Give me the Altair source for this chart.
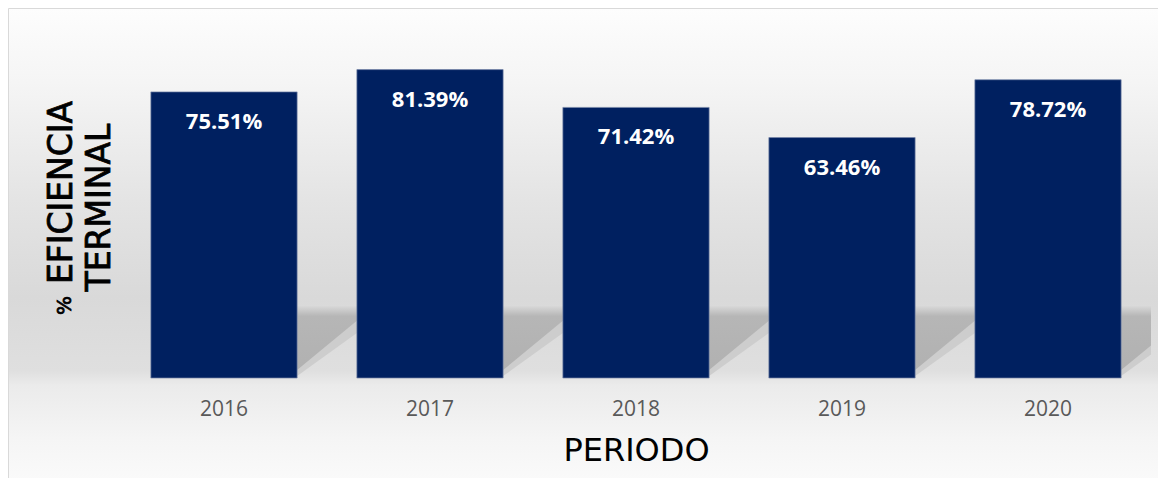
import altair as alt
import pandas as pd

# ---- data ----
years = ["2016", "2017", "2018", "2019", "2020"]
values = [75.51, 81.39, 71.42, 63.46, 78.72]

# ---- layout constants ----
W, H = 1030, 341
Y_MAX = 90
PAD_INNER = 0.29
PAD_OUTER = PAD_INNER / 2

# decorative floor shadow (in y data units), cast to the right of each bar
SHADOW_TOP = 19.0
SHADOW_LOW_NEAR = 0.5
SHADOW_LOW_FAR = 13.5
SOFT_EDGE = 1.6

df = pd.DataFrame({"year": years, "v": values})

rows = []
for i, yr in enumerate(years):
    x_right = i + PAD_OUTER + (1 - PAD_INNER)
    x_next = x_right + PAD_INNER
    rows.append({"g": yr, "xs": x_right, "top": SHADOW_TOP, "low": SHADOW_LOW_NEAR + SOFT_EDGE,
                 "low_soft": SHADOW_LOW_NEAR})
    rows.append({"g": yr, "xs": x_next, "top": SHADOW_TOP, "low": SHADOW_LOW_FAR + SOFT_EDGE,
                 "low_soft": SHADOW_LOW_FAR - SOFT_EDGE})
shadow_df = pd.DataFrame(rows)

yscale = alt.Scale(domain=[0, Y_MAX], nice=False, zero=True)
xband = alt.Scale(paddingInner=PAD_INNER, paddingOuter=PAD_OUTER)
xshadow = alt.Scale(domain=[0, len(years)], nice=False, zero=False)

bg = alt.Chart(pd.DataFrame({"a": [0]})).mark_rect(
    color=alt.Gradient(
        gradient="linear", x1=0, y1=0, x2=0, y2=1,
        stops=[
            alt.GradientStop(offset=0.0, color="#fdfdfd"),
            alt.GradientStop(offset=0.15, color="#f5f5f5"),
            alt.GradientStop(offset=0.39, color="#e4e4e4"),
            alt.GradientStop(offset=0.59, color="#d9d9d9"),
            alt.GradientStop(offset=0.74, color="#dfdfdf"),
            alt.GradientStop(offset=0.77, color="#ebebeb"),
            alt.GradientStop(offset=0.88, color="#f5f5f5"),
            alt.GradientStop(offset=1.0, color="#fcfcfc"),
        ],
    ),
    stroke="#d9d9d9",
    strokeWidth=1,
).encode(
    x=alt.value(-112.5), x2=alt.value(W + 20),
    y=alt.value(-28.5), y2=alt.value(H + 120),
)

shadow_soft = alt.Chart(shadow_df).mark_area(
    color="#cdcdcd", clip=True,
).encode(
    x=alt.X("xs:Q", scale=xshadow, axis=None),
    y=alt.Y("top:Q", scale=yscale, axis=None),
    y2="low_soft:Q",
    detail="g:N",
)

shadow = alt.Chart(shadow_df).mark_area(
    color=alt.Gradient(
        gradient="linear", x1=0, y1=0, x2=0, y2=1,
        stops=[
            alt.GradientStop(offset=0.0, color="#d8d8d8"),
            alt.GradientStop(offset=0.16, color="#b6b6b6"),
            alt.GradientStop(offset=1.0, color="#b1b1b1"),
        ],
    ),
    clip=True,
).encode(
    x=alt.X("xs:Q", scale=xshadow, axis=None),
    y=alt.Y("top:Q", scale=yscale, axis=None),
    y2="low:Q",
    detail="g:N",
)

bars = alt.Chart(df).mark_bar(
    color="#002060", stroke="#7585a8", strokeWidth=0.7
).encode(
    x=alt.X(
        "year:N", sort=years, scale=xband,
        axis=alt.Axis(
            title="PERIODO", labelAngle=0, ticks=False, tickSize=0, domain=False, grid=False,
            labelFont="Open Sans", labelFontSize=21, labelColor="#595959",
            labelBaseline="alphabetic", labelPadding=37,
            titleFont="DejaVu Sans", titleFontSize=32, titleFontWeight="normal",
            titleColor="#000000", titlePadding=16, zindex=2,
        ),
    ),
    y=alt.Y("v:Q", scale=yscale, axis=None),
)

labels = alt.Chart(df).transform_calculate(
    lab="format(datum.v, '.2f') + '%'"
).mark_text(
    color="white", font="Open Sans", fontSize=22, fontWeight="bold",
    baseline="alphabetic", dy=37,
).encode(
    x=alt.X("year:N", sort=years, scale=xband, axis=None),
    y=alt.Y("v:Q", scale=yscale, axis=None),
    text="lab:N",
)

def ytext(txt, x, y, size):
    return alt.Chart(pd.DataFrame({"t": [txt]})).mark_text(
        angle=270, font="DejaVu Sans", fontSize=size, align="center",
        baseline="alphabetic", color="#000000", stroke="#000000", strokeWidth=0.8,
    ).encode(x=alt.value(x), y=alt.value(y), text="t:N")

yt1 = ytext("EFICIENCIA", -49, 155.5, 33)
yt2 = ytext("TERMINAL", -11, 170.5, 33)
yt3 = ytext("%", -50, 268.5, 20)

chart = alt.layer(bg, shadow_soft, shadow, bars, labels, yt1, yt2, yt3).resolve_scale(
    x="independent"
).properties(
    width=W, height=H,
    autosize=alt.AutoSizeParams(type="none"),
    padding={"left": 113, "top": 29, "right": 7, "bottom": 100},
    background="white",
).configure_view(stroke=None)

chart.save("out.html", embed_options={"renderer": "svg", "actions": False})
